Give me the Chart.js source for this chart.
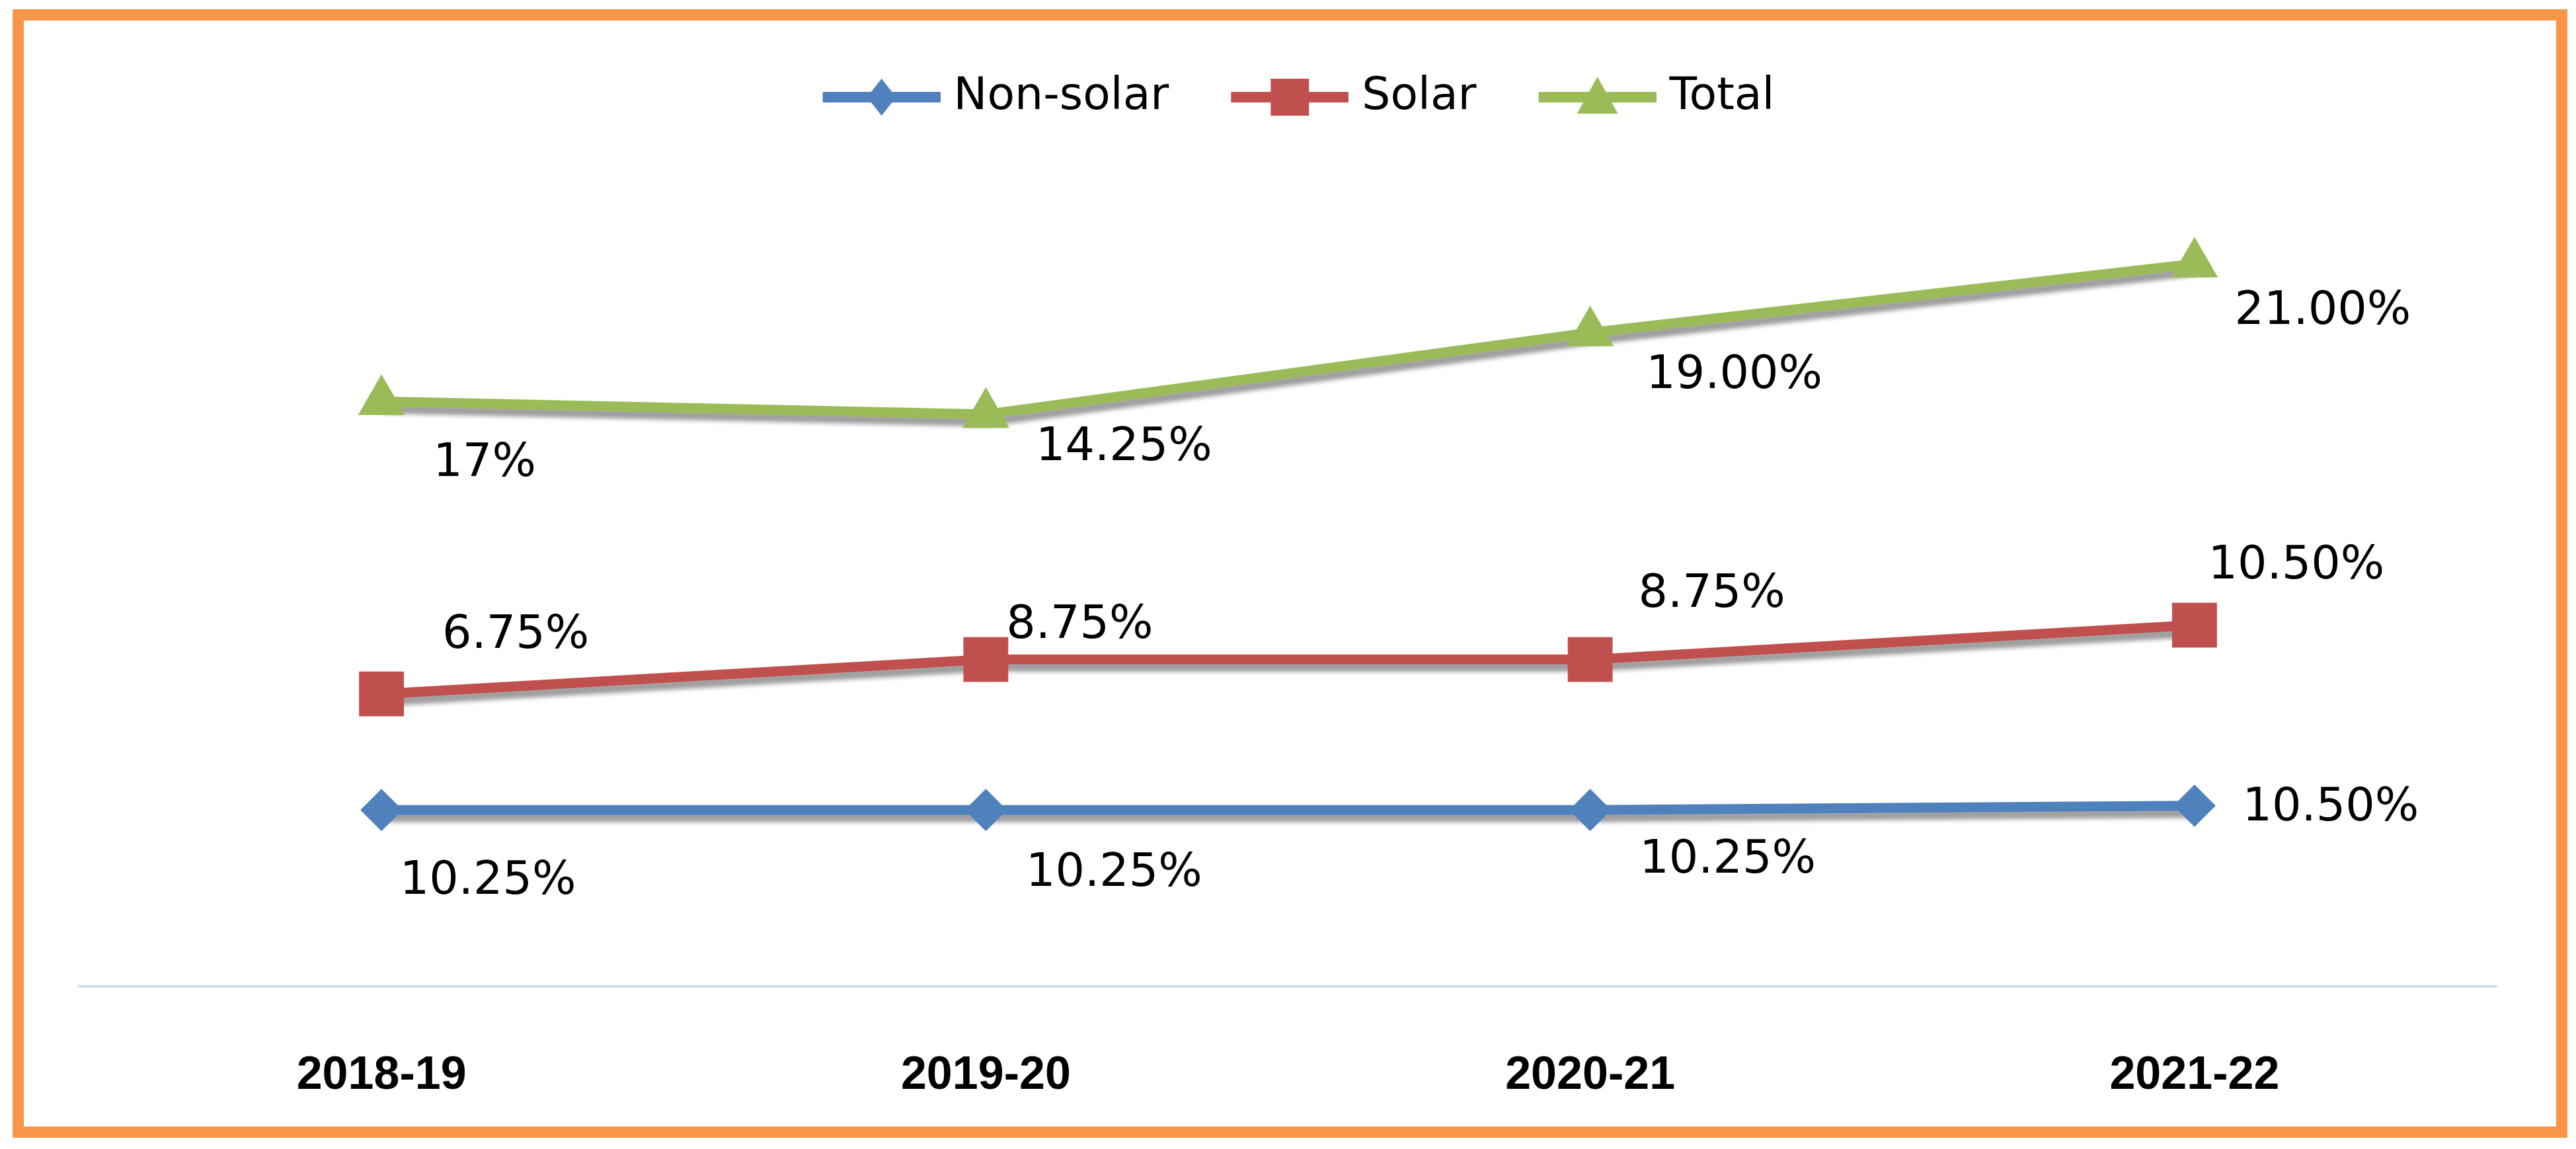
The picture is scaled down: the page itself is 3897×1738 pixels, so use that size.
<!DOCTYPE html>
<html>
<head>
<meta charset="utf-8">
<script src="https://cdn.jsdelivr.net/npm/chart.js@4.4.1/dist/chart.umd.min.js"></script>
<style>
  html, body { margin: 0; padding: 0; background: #fff; overflow: hidden; }
  canvas { position: absolute; left: 0; top: 0; }
  #frame {
    position: absolute; left: 19px; top: 14px; width: 3865px; height: 1707px;
    box-sizing: border-box; border: 17px solid #f79646; pointer-events: none;
  }
</style>
</head>
<body>
<canvas id="chart-rpo" width="3897" height="1738"></canvas>
<div id="frame"></div>
<script>
// RPO targets by year

const years = ['2018-19', '2019-20', '2020-21', '2021-22'];

const nonSolar = [10.25, 10.25, 10.25, 10.5];
const solar = [6.75, 8.75, 8.75, 10.5];
const total = [17, 14.25, 19, 21];

const nonSolarText = ['10.25%', '10.25%', '10.25%', '10.50%'];
const solarText = ['6.75%', '8.75%', '8.75%', '10.50%'];
const totalText = ['17%', '14.25%', '19.00%', '21.00%'];

// where each value label sits relative to its marker
const nonSolarOffsets = [[161, 109], [194, 97], [208, 77], [206, 4]];
const solarOffsets = [[203, -88], [142, -51], [184, -98], [154, -89]];
const totalOffsets = [[156, 94], [209, 51], [218, 66], [194, 73]];

const BLUE = '#4f81bd';
const RED = '#c0504d';
const GREEN = '#9bbb59';

// legend icon: line with the marker in the middle (Excel style)
function legendIcon(color, marker) {
  const c = document.createElement('canvas');
  c.width = 274;
  c.height = 80;
  const g = c.getContext('2d');
  g.fillStyle = color;
  g.fillRect(96, 32, 178, 16);
  const cx = 185, cy = 40;
  g.beginPath();
  if (marker === 'square') {
    g.rect(cx - 29, cy - 28, 58, 56);
  } else if (marker === 'diamond') {
    g.moveTo(cx, cy - 28); g.lineTo(cx + 22, cy); g.lineTo(cx, cy + 28); g.lineTo(cx - 22, cy);
  } else {
    g.moveTo(cx, cy - 31); g.lineTo(cx + 31, cy + 25); g.lineTo(cx - 31, cy + 25);
  }
  g.closePath();
  g.fill();
  return c;
}

const legendIcons = [
  legendIcon(BLUE, 'diamond'),
  legendIcon(RED, 'square'),
  legendIcon(GREEN, 'triangle')
];

// grey shadow under the lines only, not the markers
const lineShadow = {
  id: 'lineShadow',
  beforeDatasetDraw(chart, args) {
    const line = args.meta.dataset;
    if (!line || line._shadowed) return;
    const draw = line.draw;
    line.draw = function (ctx, area) {
      ctx.save();
      ctx.shadowColor = 'rgba(0, 0, 0, 0.38)';
      ctx.shadowBlur = 6;
      ctx.shadowOffsetX = 2;
      ctx.shadowOffsetY = 11;
      draw.call(this, ctx, area);
      ctx.restore();
    };
    line._shadowed = true;
  }
};

const valueLabels = {
  id: 'valueLabels',
  afterDatasetsDraw(chart) {
    const ctx = chart.ctx;
    ctx.save();
    ctx.font = '70px "DejaVu Sans"';
    ctx.fillStyle = '#000';
    ctx.textAlign = 'center';
    ctx.textBaseline = 'middle';
    chart.data.datasets.forEach((ds, i) => {
      chart.getDatasetMeta(i).data.forEach((pt, j) => {
        const off = ds.labelOffsets[j];
        ctx.fillText(ds.labelText[j], pt.x + off[0], pt.y + off[1]);
      });
    });
    ctx.restore();
  }
};

const dataRpo = {
  labels: years,
  datasets: [
    {
      label: 'Non-solar',
      data: nonSolar,
      labelText: nonSolarText,
      labelOffsets: nonSolarOffsets,
      borderColor: BLUE,
      backgroundColor: BLUE,
      pointStyle: 'rectRot',
      pointRadius: 32
    },
    {
      label: 'Solar',
      data: solar,
      labelText: solarText,
      labelOffsets: solarOffsets,
      borderColor: RED,
      backgroundColor: RED,
      pointStyle: 'rect',
      pointRadius: 48
    },
    {
      label: 'Total',
      data: total,
      labelText: totalText,
      labelOffsets: totalOffsets,
      borderColor: GREEN,
      backgroundColor: GREEN,
      pointStyle: 'triangle',
      pointRadius: 41
    }
  ]
};

const configRpo = {
  type: 'line',
  data: dataRpo,
  plugins: [lineShadow, valueLabels],
  options: {
    responsive: false,
    devicePixelRatio: 1,
    animation: false,
    events: [],
    layout: { padding: { left: 70, right: 120, top: 101, bottom: 0 } },
    elements: {
      line: { borderWidth: 15, tension: 0, fill: false },
      point: { borderWidth: 0, hoverRadius: 0 }
    },
    scales: {
      x: {
        offset: true,
        grid: { display: false, drawTicks: false },
        border: { display: true, color: '#d3e0f2', width: 4 },
        ticks: {
          padding: 94,
          color: '#000',
          font: { family: '"Liberation Sans"', size: 70, weight: 'bold' }
        },
        afterFit: s => { s.height = 246; }
      },
      y: {
        stacked: true,
        min: 0,
        max: 50,
        grid: { display: false, drawTicks: false },
        border: { display: false },
        ticks: { display: false },
        afterFit: s => { s.width = 50; }
      }
    },
    plugins: {
      tooltip: { enabled: false },
      legend: {
        position: 'top',
        labels: {
          usePointStyle: true,
          pointStyleWidth: 246,
          padding: 12,
          color: '#000',
          font: { family: '"DejaVu Sans"', size: 68 },
          generateLabels: chart => chart.data.datasets.map((ds, i) => ({
            text: ds.label,
            pointStyle: legendIcons[i],
            fillStyle: ds.borderColor,
            strokeStyle: ds.borderColor,
            lineWidth: 0,
            hidden: false,
            datasetIndex: i,
            fontColor: '#000'
          }))
        }
      }
    }
  }
};

const chartRpo = new Chart(document.getElementById('chart-rpo'), configRpo);
</script>
</body>
</html>
